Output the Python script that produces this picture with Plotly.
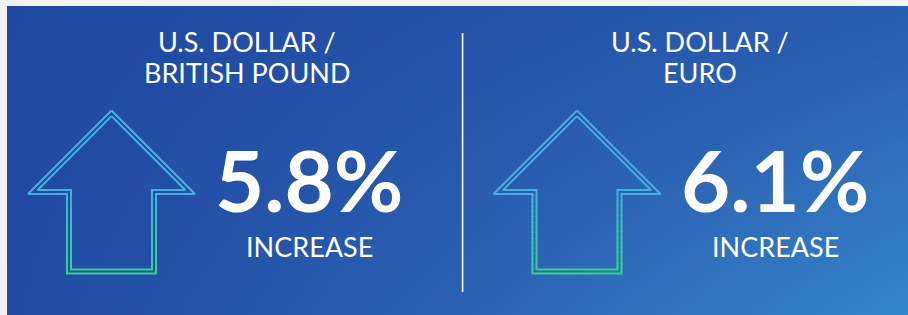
import numpy as np
import plotly.graph_objects as go

# ---------------- data ----------------
pair_line1 = ["U.S. DOLLAR /", "U.S. DOLLAR /"]
pair_line2 = ["BRITISH POUND", "EURO"]
change_pct = [5.8, 6.1]
direction = ["INCREASE", "INCREASE"]

# ---------------- layout constants ----------------
W, H = 908, 315
PANEL = (7, 6, 908, 315)           # x0, y0, x1, y1 in pixels
col_title_x = [247, 700]
col_num_x = [309, 775]
col_icon_x = [111.5, 577]

fig = go.Figure()

# background gradient panel (heatmap bricks)
px0, py0, px1, py1 = PANEL
nx, ny = 227, 78
xe = np.linspace(px0, px1, nx + 1)
ye = np.linspace(py0, py1, ny + 1)
xc = (xe[:-1] + xe[1:]) / 2
yc = (ye[:-1] + ye[1:]) / 2
U, V = np.meshgrid((xc - px0) / (px1 - px0), (yc - py0) / (py1 - py0))
TL, TR, BL, BR = 0.0, 0.45, 0.08, 1.0
Z = TL * (1 - U) * (1 - V) + TR * U * (1 - V) + BL * (1 - U) * V + BR * U * V
fig.add_trace(go.Heatmap(
    x=xe, y=ye, z=Z, zmin=0, zmax=1, showscale=False, hoverinfo="skip",
    colorscale=[[0, "#1f47a0"], [0.5, "#2a5fb1"], [1, "#3786c9"]],
))

# ---------------- arrow icons with vertical colour gradient ----------------
def arrow_poly(cx, tip, base, headhw, shafthw, bottom):
    return [(cx, tip), (cx + headhw, base), (cx + shafthw, base), (cx + shafthw, bottom),
            (cx - shafthw, bottom), (cx - shafthw, base), (cx - headhw, base), (cx, tip)]

C_TOP = np.array([76, 172, 224])
C_BOT = np.array([52, 212, 140])
G_Y0, G_Y1 = 190, 274
NB = 16
bands = [([], []) for _ in range(NB)]

def band_of(y):
    t = np.clip((y - G_Y0) / (G_Y1 - G_Y0), 0, 1)
    return min(NB - 1, int(t * NB))

def add_poly(pts):
    # split into 1px pieces, merge consecutive pieces of the same colour band
    pieces = []
    for (x0, y0), (x1, y1) in zip(pts[:-1], pts[1:]):
        L = max(abs(x1 - x0), abs(y1 - y0))
        n = max(1, int(np.ceil(L / 1.0)))
        for k in range(n):
            a, b = k / n, (k + 1) / n
            pieces.append(((x0 + (x1 - x0) * a, y0 + (y1 - y0) * a),
                           (x0 + (x1 - x0) * b, y0 + (y1 - y0) * b)))
    run, cur = [], None
    prev_start = None
    for (pa, pb) in pieces:
        bi = band_of((pa[1] + pb[1]) / 2)
        if bi != cur:
            if run:
                bands[cur][0].extend([p[0] for p in run] + [None])
                bands[cur][1].extend([p[1] for p in run] + [None])
            run = [prev_start if prev_start is not None else pa, pa]
            cur = bi
        run.append(pb)
        prev_start = pa
    if run:
        bands[cur][0].extend([p[0] for p in run] + [None])
        bands[cur][1].extend([p[1] for p in run] + [None])

d = 4.0
for cx in col_icon_x:
    tip, base, headhw, shafthw, bottom = 110.5, 194.0, 83.5, 44.5, 273.5
    add_poly(arrow_poly(cx, tip, base, headhw, shafthw, bottom))
    add_poly(arrow_poly(cx, tip + d * np.sqrt(2), base - d,
                        headhw - d * (1 + np.sqrt(2)), shafthw - d, bottom - d))

for bi, (bx, by) in enumerate(bands):
    if not bx:
        continue
    t = (bi + 0.5) / NB
    c = (C_TOP * (1 - t) + C_BOT * t).astype(int)
    fig.add_trace(go.Scatter(
        x=bx, y=by, mode="lines", hoverinfo="skip", showlegend=False,
        line=dict(color=f"rgb({c[0]},{c[1]},{c[2]})", width=2),
    ))

# divider
fig.add_shape(type="line", x0=462.6, x1=462.6, y0=33, y1=292,
              line=dict(color="#eef2fa", width=1.6))

# ---------------- texts ----------------
FONT = "Lato"
for i in range(2):
    fig.add_annotation(x=col_title_x[i], y=41.5, text=pair_line1[i], showarrow=False,
                       xanchor="center", yanchor="middle", borderpad=0,
                       font=dict(family=FONT, size=27, color="white"))
    fig.add_annotation(x=col_title_x[i], y=72.5, text=pair_line2[i], showarrow=False,
                       xanchor="center", yanchor="middle", borderpad=0,
                       font=dict(family=FONT, size=27, color="white"))
    fig.add_annotation(x=col_num_x[i], y=179.2, text=f"<b>{change_pct[i]:.1f}%</b>", showarrow=False,
                       xanchor="center", yanchor="middle", borderpad=0,
                       font=dict(family=FONT, size=85, color="white"))
    fig.add_annotation(x=col_num_x[i], y=246.7, text=direction[i], showarrow=False,
                       xanchor="center", yanchor="middle", borderpad=0,
                       font=dict(family=FONT, size=27, color="white"))

fig.update_layout(
    width=W, height=H, margin=dict(l=0, r=0, t=0, b=0),
    paper_bgcolor="#f2f2f2", plot_bgcolor="#f2f2f2",
    xaxis=dict(range=[0, W], visible=False, fixedrange=True),
    yaxis=dict(range=[H, 0], visible=False, fixedrange=True),
    showlegend=False,
)
fig.write_html(
    "out.html",
    config={"displayModeBar": False},
    post_script="document.body.style.margin='0';document.body.style.overflow='hidden';"
                "document.body.style.background='#f2f2f2';",
)
